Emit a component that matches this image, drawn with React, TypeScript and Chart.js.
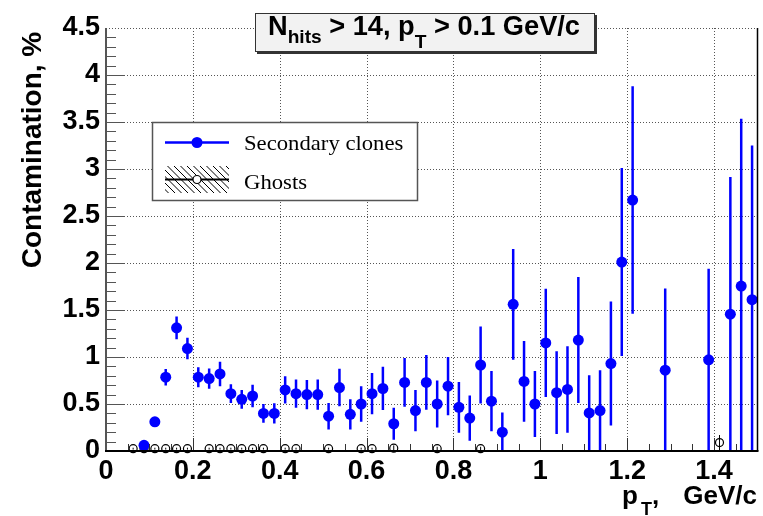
import React, { useEffect, useRef } from 'react';
import { Chart, registerables } from 'chart.js';

Chart.register(...registerables);

// ---- data ----
const clonePt = [0.0875, 0.1125, 0.1375, 0.1625, 0.1875, 0.2125, 0.2375, 0.2625, 0.2875, 0.3125, 0.3375, 0.3625, 0.3875, 0.4125, 0.4375, 0.4625, 0.4875, 0.5125, 0.5375, 0.5625, 0.5875, 0.6125, 0.6375, 0.6625, 0.6875, 0.7125, 0.7375, 0.7625, 0.7875, 0.8125, 0.8375, 0.8625, 0.8875, 0.9125, 0.9375, 0.9625, 0.9875, 1.0125, 1.0375, 1.0625, 1.0875, 1.1125, 1.1375, 1.1625, 1.1875, 1.2125, 1.2875, 1.3875, 1.4375, 1.4625, 1.4875];
const cloneVal = [0.06, 0.31, 0.785, 1.31, 1.09, 0.785, 0.77, 0.82, 0.61, 0.55, 0.585, 0.40, 0.40, 0.65, 0.61, 0.60, 0.60, 0.37, 0.675, 0.39, 0.50, 0.61, 0.665, 0.29, 0.73, 0.43, 0.73, 0.50, 0.69, 0.465, 0.35, 0.915, 0.53, 0.20, 1.56, 0.74, 0.50, 1.15, 0.62, 0.655, 1.18, 0.405, 0.43, 0.93, 2.01, 2.67, 0.86, 0.97, 1.455, 1.755, 1.61];
const cloneErr = [0.03, 0.05, 0.087, 0.12, 0.115, 0.107, 0.108, 0.13, 0.10, 0.10, 0.12, 0.10, 0.107, 0.145, 0.15, 0.156, 0.16, 0.14, 0.20, 0.16, 0.19, 0.22, 0.23, 0.17, 0.26, 0.22, 0.29, 0.25, 0.31, 0.27, 0.24, 0.41, 0.32, 0.21, 0.59, 0.43, 0.35, 0.575, 0.44, 0.46, 0.67, 0.40, 0.43, 0.66, 1.0, 1.21, 0.87, 0.97, 1.46, 1.78, 1.64];

const ghostPt = [0.0625, 0.0875, 0.1125, 0.1375, 0.1625, 0.1875, 0.2375, 0.2625, 0.2875, 0.3125, 0.3375, 0.3625, 0.4125, 0.4375, 0.5125, 0.5875, 0.6125, 0.6625, 0.7625, 0.8625, 1.4125];
const ghostVal = [0.025, 0.025, 0.025, 0.025, 0.025, 0.025, 0.025, 0.025, 0.025, 0.025, 0.025, 0.025, 0.025, 0.025, 0.025, 0.025, 0.025, 0.03, 0.025, 0.025, 0.09];
const ghostErr = [0.01, 0.01, 0.01, 0.01, 0.01, 0.01, 0.01, 0.01, 0.01, 0.01, 0.01, 0.01, 0.01, 0.01, 0.01, 0.01, 0.01, 0.03, 0.02, 0.02, 0.08];

const xTickValues = [0, 0.2, 0.4, 0.6, 0.8, 1, 1.2, 1.4];
const yTickValues = [0, 0.5, 1, 1.5, 2, 2.5, 3, 3.5, 4, 4.5];
const xMin = 0, xMax = 1.5, yMin = 0, yMax = 4.5;
const xMinorStep = 0.05;
const yMinorStep = 0.1;

const seriesNames = ['Secondary clones', 'Ghosts'];
const yTitle = 'Contamination, %';

const BLUE = '#0000ff';
const SANS = '"Liberation Sans", Arial, sans-serif';
const SERIF = '"Liberation Serif", "Times New Roman", serif';

type Seg = { text: string; size: number; dy: number };

function drawSegs(ctx: CanvasRenderingContext2D, segs: Seg[], x0: number, base: number, target: number) {
  let total = 0;
  const ws: number[] = [];
  for (const s of segs) {
    ctx.font = `bold ${s.size}px ${SANS}`;
    const w = ctx.measureText(s.text).width;
    ws.push(w);
    total += w;
  }
  const sx = target / total;
  ctx.save();
  ctx.translate(x0, base);
  ctx.scale(sx, 1);
  ctx.textAlign = 'left';
  ctx.textBaseline = 'alphabetic';
  ctx.fillStyle = '#000';
  let cx = 0;
  segs.forEach((s, i) => {
    ctx.font = `bold ${s.size}px ${SANS}`;
    ctx.fillText(s.text, cx, s.dy);
    cx += ws[i];
  });
  ctx.restore();
}

const rootPlugin = {
  id: 'rootStyle',
  beforeDatasetsDraw(chart: any) {
    const { ctx, chartArea: a, scales } = chart;
    const x = scales.x, y = scales.y;
    ctx.save();
    // dotted grid
    ctx.setLineDash([1, 2]);
    ctx.strokeStyle = '#555';
    ctx.lineWidth = 1;
    for (const v of xTickValues) {
      if (v <= xMin) continue;
      const px = Math.round(x.getPixelForValue(v)) + 0.5;
      ctx.beginPath(); ctx.moveTo(px, a.top); ctx.lineTo(px, a.bottom); ctx.stroke();
    }
    for (const v of yTickValues) {
      if (v <= yMin) continue;
      const py = Math.round(y.getPixelForValue(v)) + 0.5;
      ctx.beginPath(); ctx.moveTo(a.left, py); ctx.lineTo(a.right, py); ctx.stroke();
    }
    ctx.setLineDash([]);
    // error bars
    ctx.beginPath();
    ctx.rect(a.left, a.top, a.right - a.left, a.bottom - a.top);
    ctx.clip();
    const bars = (xs: number[], vs: number[], es: number[], color: string, w: number) => {
      ctx.strokeStyle = color;
      ctx.lineWidth = w;
      xs.forEach((xv, i) => {
        const px = x.getPixelForValue(xv);
        const lo = y.getPixelForValue(Math.max(yMin, vs[i] - es[i]));
        const hi = y.getPixelForValue(Math.min(yMax, vs[i] + es[i]));
        ctx.beginPath(); ctx.moveTo(px, lo); ctx.lineTo(px, hi); ctx.stroke();
      });
    };
    bars(ghostPt, ghostVal, ghostErr, '#000', 1);
    bars(clonePt, cloneVal, cloneErr, BLUE, 2.5);
    ctx.restore();
  },
  afterDatasetsDraw(chart: any) {
    const { ctx, chartArea: a, scales } = chart;
    const x = scales.x, y = scales.y;
    ctx.save();
    // ticks
    ctx.lineWidth = 1;
    ctx.strokeStyle = '#333';
    const nx = Math.round((xMax - xMin) / xMinorStep);
    for (let i = 1; i < nx; i++) {
      const v = xMin + i * xMinorStep;
      const major = xTickValues.some(t => Math.abs(t - v) < 1e-6);
      const px = Math.round(x.getPixelForValue(v)) + 0.5;
      ctx.beginPath(); ctx.moveTo(px, a.bottom); ctx.lineTo(px, a.bottom - (major ? 13 : 7)); ctx.stroke();
    }
    ctx.strokeStyle = '#555';
    const ny = Math.round((yMax - yMin) / yMinorStep);
    for (let i = 1; i < ny; i++) {
      const v = yMin + i * yMinorStep;
      const major = yTickValues.some(t => Math.abs(t - v) < 1e-6);
      const py = Math.round(y.getPixelForValue(v)) + 0.5;
      ctx.beginPath(); ctx.moveTo(a.left, py); ctx.lineTo(a.left + (major ? 19 : 10), py); ctx.stroke();
    }
    // frame
    ctx.strokeStyle = '#555';
    ctx.lineWidth = 2;
    ctx.beginPath(); ctx.moveTo(a.left, a.top); ctx.lineTo(a.left, a.bottom); ctx.stroke();
    ctx.strokeStyle = '#000';
    ctx.lineWidth = 1.5;
    ctx.beginPath(); ctx.moveTo(a.right, a.top); ctx.lineTo(a.right, a.bottom); ctx.stroke();
    ctx.lineWidth = 2;
    ctx.beginPath(); ctx.moveTo(a.left - 1, a.bottom); ctx.lineTo(a.right + 1, a.bottom); ctx.stroke();
    ctx.restore();
  },
  afterDraw(chart: any) {
    const { ctx } = chart;
    ctx.save();
    // title box with shadow
    ctx.fillStyle = '#333';
    ctx.fillRect(257, 15, 340, 39);
    ctx.fillStyle = '#f2f2f2';
    ctx.fillRect(255, 13, 340, 39);
    ctx.strokeStyle = '#333';
    ctx.lineWidth = 1;
    ctx.strokeRect(255.5, 13.5, 339, 38);
    drawSegs(ctx, [
      { text: 'N', size: 27, dy: 0 },
      { text: 'hits', size: 19, dy: 8 },
      { text: ' > 14, p', size: 27, dy: 0 },
      { text: 'T', size: 19, dy: 13 },
      { text: ' > 0.1 GeV/c', size: 27, dy: 0 },
    ], 268, 35, 312);

    // legend
    ctx.fillStyle = '#fff';
    ctx.fillRect(152, 122, 266, 79);
    ctx.strokeStyle = '#555';
    ctx.lineWidth = 1.5;
    ctx.strokeRect(152.5, 122.5, 265, 78);
    // row 1
    ctx.strokeStyle = BLUE;
    ctx.lineWidth = 2.5;
    ctx.beginPath(); ctx.moveTo(165, 142.5); ctx.lineTo(229, 142.5); ctx.stroke();
    ctx.fillStyle = BLUE;
    ctx.beginPath(); ctx.arc(197, 142.5, 5.5, 0, Math.PI * 2); ctx.fill();
    // row 2 hatch
    ctx.save();
    ctx.beginPath(); ctx.rect(165, 166, 64, 27); ctx.clip();
    ctx.strokeStyle = '#000';
    ctx.lineWidth = 1;
    for (let k = -30; k < 70; k += 6.5) {
      ctx.beginPath(); ctx.moveTo(165 + k, 166); ctx.lineTo(165 + k + 27, 193); ctx.stroke();
    }
    ctx.restore();
    ctx.strokeStyle = '#000';
    ctx.lineWidth = 2;
    ctx.beginPath(); ctx.moveTo(165, 179.5); ctx.lineTo(229, 179.5); ctx.stroke();
    ctx.fillStyle = '#fff';
    ctx.lineWidth = 1.2;
    ctx.beginPath(); ctx.arc(197, 179.5, 4, 0, Math.PI * 2); ctx.fill(); ctx.stroke();
    ctx.fillStyle = '#000';
    ctx.font = `21px ${SERIF}`;
    ctx.textAlign = 'left';
    ctx.textBaseline = 'alphabetic';
    ctx.save(); ctx.translate(244, 149.5); ctx.scale(1.08, 1); ctx.fillText(seriesNames[0], 0, 0); ctx.restore();
    ctx.save(); ctx.translate(244, 188.5); ctx.scale(1.08, 1); ctx.fillText(seriesNames[1], 0, 0); ctx.restore();

    // y title
    ctx.save();
    ctx.translate(41, 150);
    ctx.rotate(-Math.PI / 2);
    ctx.font = `bold 28px ${SANS}`;
    ctx.textAlign = 'center';
    ctx.fillText(yTitle, 0, 0);
    ctx.restore();

    // x title
    ctx.font = `bold 26px ${SANS}`;
    ctx.textAlign = 'left';
    ctx.fillText('p', 622, 504);
    ctx.font = `bold 18px ${SANS}`;
    ctx.fillText('T', 641, 515);
    ctx.font = `bold 26px ${SANS}`;
    ctx.fillText(',', 652, 504);
    ctx.textAlign = 'right';
    ctx.fillText('GeV/c', 757, 504);
    ctx.restore();
  },
};

const fmt = (v: any) => String(Number(v));

export default function App() {
  const ref = useRef<HTMLCanvasElement | null>(null);
  useEffect(() => {
    document.body.style.margin = '0';
    const canvas = ref.current;
    if (!canvas) return;
    const tickFont = { family: SANS, size: 27, weight: 'bold' as const };
    const chart = new Chart(canvas, {
      type: 'scatter',
      data: {
        datasets: [
          {
            label: seriesNames[0],
            data: clonePt.map((xv, i) => ({ x: xv, y: cloneVal[i] })),
            pointRadius: 5.5,
            pointBackgroundColor: BLUE,
            pointBorderColor: BLUE,
            pointBorderWidth: 0,
            showLine: false,
          },
          {
            label: seriesNames[1],
            data: ghostPt.map((xv, i) => ({ x: xv, y: ghostVal[i] })),
            pointRadius: 4,
            pointBackgroundColor: 'rgba(255,255,255,0)',
            pointBorderColor: '#000',
            pointBorderWidth: 1.2,
            showLine: false,
            clip: false as any,
          },
        ],
      },
      options: {
        animation: false,
        responsive: false,
        maintainAspectRatio: false,
        devicePixelRatio: 1,
        layout: { padding: { top: 28, right: 4, left: 0, bottom: 0 } },
        plugins: { legend: { display: false }, tooltip: { enabled: false }, title: { display: false } },
        scales: {
          x: {
            type: 'linear',
            min: xMin,
            max: xMax,
            afterBuildTicks: (s: any) => { s.ticks = xTickValues.map(v => ({ value: v })); },
            afterFit: (s: any) => { s.height = 65; },
            grid: { display: false, drawTicks: false },
            border: { display: false },
            ticks: { font: tickFont, color: '#000', padding: 4, maxRotation: 0, autoSkip: false, callback: fmt },
          },
          y: {
            type: 'linear',
            min: yMin,
            max: yMax,
            afterBuildTicks: (s: any) => { s.ticks = yTickValues.map(v => ({ value: v })); },
            afterFit: (s: any) => { s.width = 106; },
            grid: { display: false, drawTicks: false },
            border: { display: false },
            ticks: { font: tickFont, color: '#000', padding: 6, autoSkip: false, callback: fmt },
          },
        },
      },
      plugins: [rootPlugin],
    });
    return () => chart.destroy();
  }, []);
  return (
    <div style={{ position: 'fixed', left: 0, top: 0, width: 763, height: 516, background: '#fff' }}>
      <canvas ref={ref} width={763} height={516} style={{ width: 763, height: 516, display: 'block' }} />
    </div>
  );
}
